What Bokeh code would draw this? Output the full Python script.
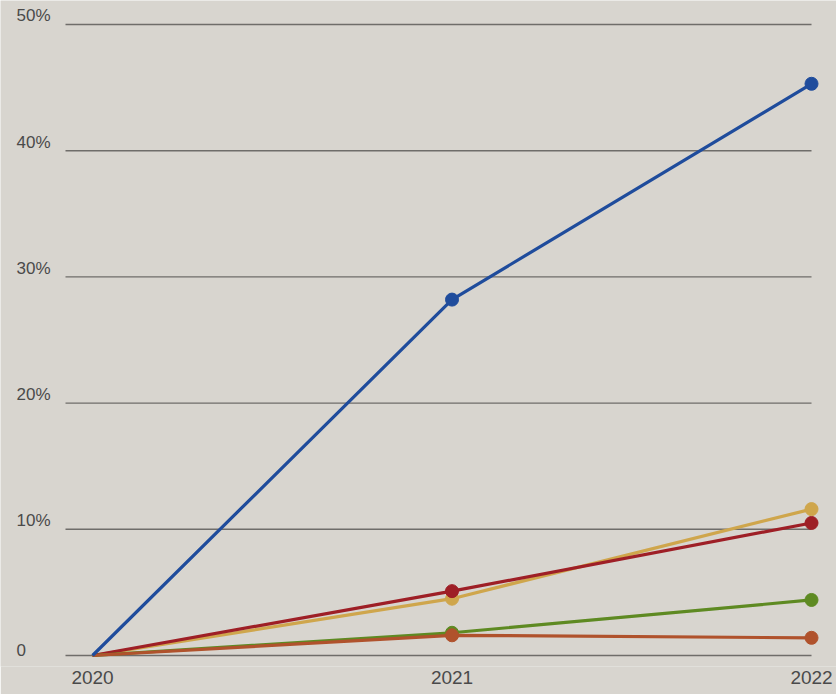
from bokeh.plotting import figure
from bokeh.models import Range1d, FixedTicker, ColumnDataSource
from bokeh.core.properties import value
from bokeh.embed import file_html
from bokeh.resources import INLINE

# ---- data ----
years = [2020, 2021, 2022]
series_names = ["Gold", "Red", "Green", "Orange", "Blue"]
gold = [0, 4.5, 11.6]
red = [0, 5.1, 10.5]
green = [0, 1.8, 4.4]
orange = [0, 1.6, 1.4]
blue = [0, 28.2, 45.3]
y_ticks = [0, 10, 20, 30, 40, 50]
y_tick_labels = ["0", "10%", "20%", "30%", "40%", "50%"]
x_ticks = [2020, 2021, 2022]

colors = {
    "Gold": "#cfa64c",
    "Red": "#9e1f26",
    "Green": "#5e8a22",
    "Orange": "#b0522c",
    "Blue": "#1f4c9c",
}
values = {"Gold": gold, "Red": red, "Green": green, "Orange": orange, "Blue": blue}

BG = "#d8d5cf"
X0, X1 = 2019.744, 2022.0695
Y0, Y1 = -0.872, 51.90

p = figure(width=836, height=694, output_backend="svg", toolbar_location=None,
           x_range=Range1d(X0, X1), y_range=Range1d(Y0, Y1),
           min_border=0, min_border_bottom=28)
p.background_fill_color = BG
p.border_fill_color = BG
p.outline_line_color = None
p.grid.visible = False
p.yaxis.visible = False

# x axis
xa = p.xaxis[0]
xa.ticker = FixedTicker(ticks=x_ticks)
xa.axis_line_color = None
xa.major_tick_line_color = None
xa.minor_tick_line_color = None
xa.major_tick_in = 0
xa.major_tick_out = 0
xa.major_label_standoff = 4
xa.major_label_text_font = "Liberation Sans"
xa.major_label_text_font_size = "19px"
xa.major_label_text_color = "#4a4a4a"

# horizontal gridlines
grid_x0 = X0 + 65 / 359.5
grid_x1 = 2022.0
p.segment(x0=[grid_x0] * len(y_ticks), x1=[grid_x1] * len(y_ticks),
          y0=y_ticks, y1=y_ticks, line_color="#6f6d6a", line_width=1.4)

# y tick labels
p.text(x=[X0] * len(y_ticks), y=y_ticks, text=y_tick_labels,
       x_offset=16, y_offset=1, text_align="left", text_baseline="bottom",
       text_font=value("Liberation Sans"), text_font_size="17px",
       text_color="#4a4a4a")

# series (no marker at the common 2020 origin)
for name in series_names:
    src = ColumnDataSource(dict(x=years, y=values[name]))
    pts = ColumnDataSource(dict(x=years[1:], y=values[name][1:]))
    p.line("x", "y", source=src, line_color=colors[name], line_width=3.2)
    p.scatter("x", "y", source=pts, size=13, fill_color=colors[name],
              line_color=colors[name])

open("out.html", "w").write(file_html(p, INLINE))
